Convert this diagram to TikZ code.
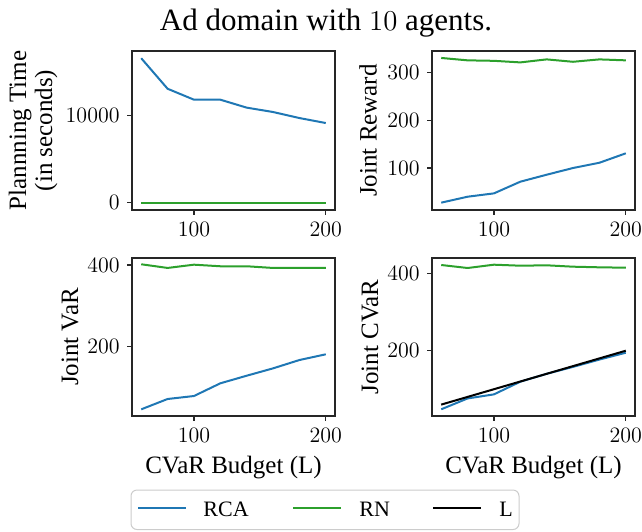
\documentclass[tikz,border=0pt]{standalone}
\usepackage{fontspec}
\usepackage{tikz}
\newfontfamily\labelfont{Liberation Serif}
\definecolor{rcablue}{HTML}{1F77B4}
\definecolor{rngreen}{HTML}{2CA02C}

\begin{document}
\begin{tikzpicture}[
        x=0.5pt, y=-0.5pt,
        frame/.style={draw=black!85, line width=0.6pt},
        tick/.style={black!85, line width=0.6pt},
        xticklabel/.style={anchor=north, inner sep=0pt, yshift=-5.75pt, font=\fontsize{11}{13}\selectfont},
        yticklabel/.style={anchor=east, inner sep=0pt, xshift=-6pt, font=\fontsize{11}{13}\selectfont},
        axlabel/.style={inner sep=0pt, align=center, font=\labelfont\fontsize{12.5}{13}\selectfont},
        ylab/.style={axlabel, rotate=90},
        curve/.style={line width=1pt, line join=round},
        rca/.style={curve, rcablue},
        rn/.style={curve, rngreen},
        lbound/.style={curve, black},
        legendbox/.style={draw=black!20, fill=white, rounded corners=3pt, line width=0.5pt},
        legendtext/.style={anchor=base west, inner sep=0pt, font=\labelfont\fontsize{11}{13}\selectfont},
    ]
        \useasboundingbox (0,0) rectangle (642,531);

        \node[anchor=base, inner sep=0pt, font=\labelfont\fontsize{15.5}{18}\selectfont] (title) at (326,30) {Ad domain with $10$ agents.};

        % planning time
        \begin{scope}[shift={(62.136,202.78)}, x=0.65909pt, y=4.3725pt]
            \draw[rca] (60,16.53) -- (80,13.04) -- (100,11.79) -- (120,11.79) -- (140,10.88) -- (160,10.38) -- (180,9.69) -- (200,9.12);
            \draw[rn] (60,0) -- (80,0) -- (100,0) -- (120,0) -- (140,0) -- (160,0) -- (180,0) -- (200,0);
            \draw[frame] (53,-0.826) rectangle (207,17.356);
            \foreach \t in {100,200} {
                \draw[tick] (\t,-0.826) -- ++(0pt,-2.45pt);
                \node[xticklabel] (tlx\t) at (\t,-0.826) {\t};
            }
            \foreach \v/\t in {0/0,10/10000} {
                \draw[tick] (53,\v) -- ++(-2.45pt,0pt);
                \node[yticklabel] (tly\v) at (53,\v) {\t};
            }
        \end{scope}
        \node[ylab] (ylabtime) at (33,130.5) {Plannning Time\\(in seconds)};

        % joint reward
        \begin{scope}[shift={(362.136,215.85)}, x=0.65909pt, y=0.23925pt]
            \draw[rca] (60,27.6) -- (80,40) -- (100,47) -- (120,71.4) -- (140,86) -- (160,100) -- (180,111) -- (200,130.7);
            \draw[rn] (60,330) -- (80,325) -- (100,324) -- (120,320.7) -- (140,327) -- (160,322) -- (180,327) -- (200,325);
            \draw[frame] (53,12.23) rectangle (207,344.5);
            \foreach \t in {100,200} {
                \draw[tick] (\t,12.23) -- ++(0pt,-2.45pt);
                \node[xticklabel] (trx\t) at (\t,12.23) {\t};
            }
            \foreach \t in {100,200,300} {
                \draw[tick] (53,\t) -- ++(-2.45pt,0pt);
                \node[yticklabel] (try\t) at (53,\t) {\t};
            }
        \end{scope}
        \node[ylab] (ylabreward) at (368,130.5) {Joint Reward};

        % joint VaR
        \begin{scope}[shift={(62.136,428.4)}, x=0.65909pt, y=0.20425pt]
            \draw[rca] (60,46.7) -- (80,72) -- (100,79.3) -- (120,110.4) -- (140,129) -- (160,147) -- (180,167.4) -- (200,181.4);
            \draw[rn] (60,401.8) -- (80,392.8) -- (100,400.8) -- (120,396.9) -- (140,396.9) -- (160,392.8) -- (180,392.8) -- (200,392.8);
            \draw[frame] (53,30.35) rectangle (207,417.1);
            \foreach \t in {100,200} {
                \draw[tick] (\t,30.35) -- ++(0pt,-2.45pt);
                \node[xticklabel] (blx\t) at (\t,30.35) {\t};
            }
            \foreach \t in {200,400} {
                \draw[tick] (53,\t) -- ++(-2.45pt,0pt);
                \node[yticklabel] (bly\t) at (53,\t) {\t};
            }
        \end{scope}
        \node[ylab] (ylabvar) at (70,337) {Joint VaR};
        \node[axlabel, anchor=base] (xlableft) at (233.5,473) {CVaR Budget (L)};

        % joint CVaR
        \begin{scope}[shift={(362.136,427.7)}, x=0.65909pt, y=0.1925pt]
            \draw[rca] (60,47.8) -- (80,76) -- (100,86.6) -- (120,119.5) -- (140,140) -- (160,158) -- (180,177) -- (200,194.8);
            \draw[rn] (60,422.6) -- (80,414.8) -- (100,423.4) -- (120,420.8) -- (140,421.8) -- (160,418.2) -- (180,416.6) -- (200,415.6);
            \draw[lbound] (60,60) -- (200,200);
            \draw[frame] (53,30.4) rectangle (207,440.8);
            \foreach \t in {100,200} {
                \draw[tick] (\t,30.4) -- ++(0pt,-2.45pt);
                \node[xticklabel] (brx\t) at (\t,30.4) {\t};
            }
            \foreach \t in {200,400} {
                \draw[tick] (53,\t) -- ++(-2.45pt,0pt);
                \node[yticklabel] (bry\t) at (53,\t) {\t};
            }
        \end{scope}
        \node[ylab] (ylabcvar) at (370,337) {Joint CVaR};
        \node[axlabel, anchor=base] (xlabright) at (533.5,473) {CVaR Budget (L)};

        % legend
        \draw[legendbox] (131,490) rectangle (519,529.5);
        \draw[rca] (138,507.7) -- (186,507.7);
        \node[legendtext] (legrca) at (203,516) {RCA};
        \draw[rn] (293,507.7) -- (341,507.7);
        \node[legendtext] (legrn) at (359,516) {RN};
        \draw[lbound] (433,507.7) -- (481,507.7);
        \node[legendtext] (legl) at (499,516) {L};
    \end{tikzpicture}
\end{document}
